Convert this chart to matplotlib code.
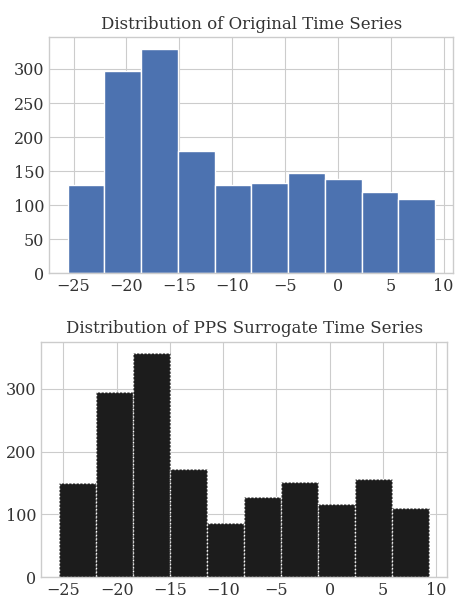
import numpy as np
import matplotlib.pyplot as plt

plt.style.use("seaborn-v0_8-whitegrid")
plt.rcParams["font.family"] = "DejaVu Serif"

# histogram counts (10 bins each)
orig_counts = [129, 297, 330, 180, 129, 133, 148, 139, 119, 109]
orig_range = (-25.55, 9.2)

pps_counts = [150, 295, 357, 173, 87, 127, 152, 116, 156, 110]
pps_range = (-25.36, 9.3)

fig = plt.figure(figsize=(4.55, 5.96), dpi=100)
ax1 = fig.add_axes([0.1084, 0.5414, 0.8883, 0.396])
ax2 = fig.add_axes([0.0901, 0.0314, 0.8929, 0.3953])

bins1 = np.linspace(orig_range[0], orig_range[1], len(orig_counts) + 1)
ax1.hist(bins1[:-1], bins=bins1, weights=orig_counts, color="#4c72b0", edgecolor="white", linewidth=1)
ax1.set_title("Distribution of Original Time Series", fontsize=12, color="#333333")

bins2 = np.linspace(pps_range[0], pps_range[1], len(pps_counts) + 1)
ax2.hist(bins2[:-1], bins=bins2, weights=pps_counts, color="#1c1c1c", edgecolor="white", linewidth=1, linestyle=":")
ax2.set_title("Distribution of PPS Surrogate Time Series", fontsize=12, color="#333333")

for ax in (ax1, ax2):
    ax.set_axisbelow(True)
    ax.tick_params(labelsize=11.5, colors="#333333")
    ax.set_xticks([-25, -20, -15, -10, -5, 0, 5, 10])

ax1.set_yticks([0, 50, 100, 150, 200, 250, 300])
ax2.set_yticks([0, 100, 200, 300])

fig.savefig("out.png")
